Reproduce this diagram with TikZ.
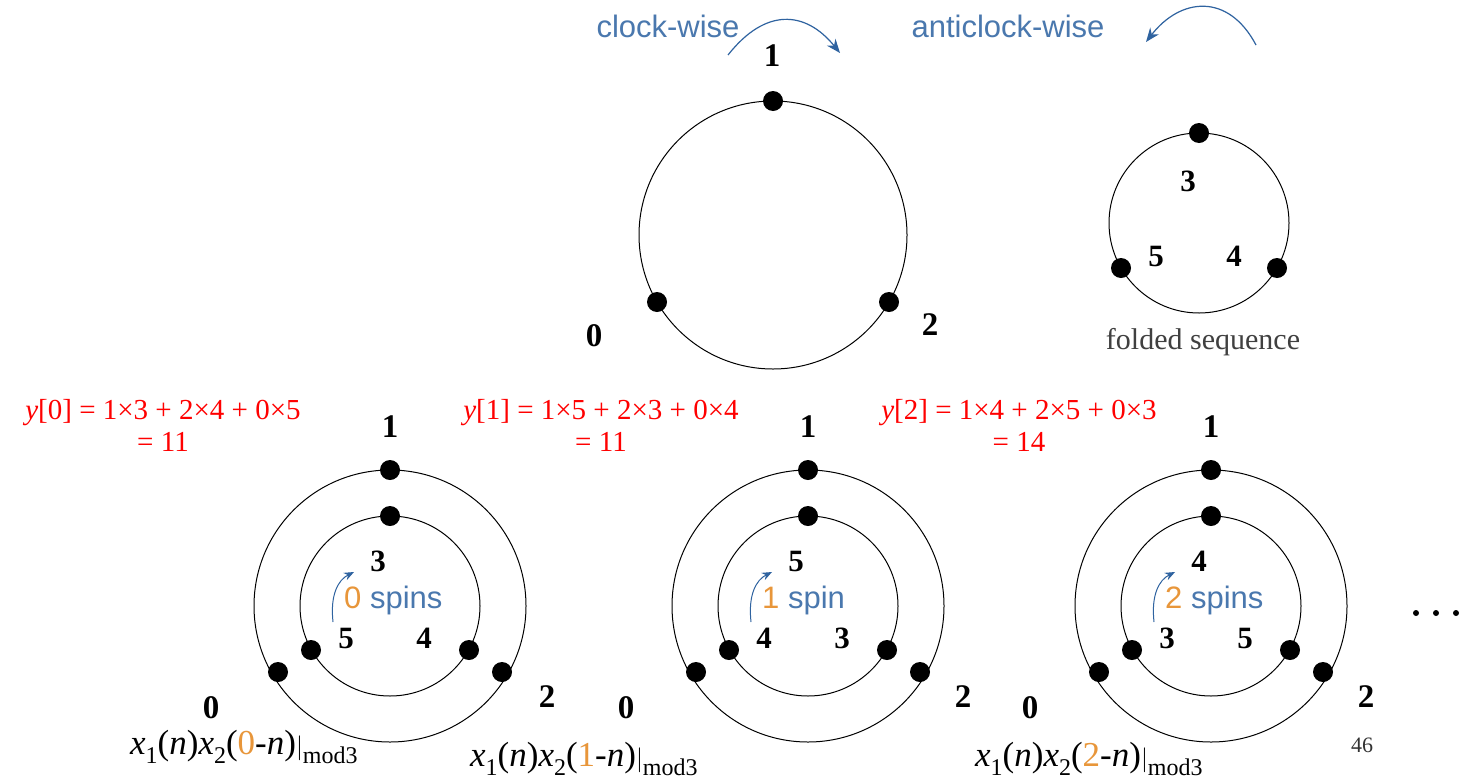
\documentclass[tikz,border=0pt]{standalone}
\usepackage{fontspec}
\setmainfont{Liberation Serif}
\setsansfont{Liberation Sans}
\usetikzlibrary{arrows.meta}
\definecolor{bluetxt}{HTML}{4A78AE}
\definecolor{bluearr}{HTML}{2F63A0}
\definecolor{orng}{HTML}{E8963A}
\newcommand{\lowsub}[1]{\raisebox{-0.28em}{\fontsize{24}{24}\selectfont #1}}
\newcommand{\rfm}[3]{\textit{y}[#1]\hspace{0.25em}=\hspace{0.25em}#2}
\begin{document}
\begin{tikzpicture}[x=1pt,y=-1pt,
  dot/.style={circle,fill=black,inner sep=0pt,minimum size=20pt},
  ring/.style={draw=black,line width=1pt},
  lab/.style={font=\fontsize{33}{33}\selectfont\bfseries,inner sep=0pt},
  inlab/.style={font=\fontsize{31}{31}\selectfont\bfseries,inner sep=0pt},
  bluet/.style={font=\sffamily\fontsize{31}{31}\selectfont,text=bluetxt,inner sep=0pt},
  redf/.style={font=\fontsize{29}{29}\selectfont,text=red,inner sep=0pt},
  capt/.style={font=\fontsize{35}{35}\selectfont,inner sep=0pt,anchor=base west},
  spinarr/.style={draw=bluearr,line width=1pt,-{Stealth[length=10pt,width=8pt]}},
  bigarr/.style={draw=bluearr,line width=1.2pt,-{Stealth[length=14pt,width=11pt]}}]
\useasboundingbox (0,0) rectangle (1461,782);
\fill[white] (0,0) rectangle (1461,782);

% ---------- top: x1 circle ----------
\coordinate (C0) at (773,235);
\draw[ring] (C0) circle[radius=134pt];
\node[dot] (a1) at (773,101) {};
\node[dot] (a0) at (657,302) {};
\node[dot] (a2) at (889,302) {};
\node[lab] (l1) at (772,56) {1};
\node[lab] (l0) at (594,336) {0};
\node[lab] (l2) at (930,325) {2};

\node[bluet] (cw) at (668,26) {clock-wise};
\node[bluet] (acw) at (1008,26) {anticlock-wise};
\coordinate (cws) at (728,55);
\coordinate (cwe) at (840,53);
\draw[bigarr] (cws) .. controls (765,8) and (805,10) .. (cwe);
\coordinate (acws) at (1256,45);
\coordinate (acwe) at (1146,42);
\draw[bigarr] (acws) .. controls (1228,-8) and (1180,-2) .. (acwe);

% ---------- top: folded x2 circle ----------
\coordinate (F0) at (1199,223);
\draw[ring] (F0) circle[radius=90pt];
\node[dot] (b3) at (1199,133) {};
\node[dot] (b5) at (1121,268) {};
\node[dot] (b4) at (1277,268) {};
\node[inlab] (f3) at (1188,181) {3};
\node[inlab] (f5) at (1156,256) {5};
\node[inlab] (f4) at (1234,256) {4};
\node[font=\fontsize{30}{30}\selectfont,text=black!75,inner sep=0pt] (fs) at (1203,342) {folded sequence};

% ---------- bottom groups ----------
\foreach \cx/\ia/\ib/\ic/\num/\word/\lx/\rx/\idx in
   {390/3/5/4/0/spins/211/547/A,
    808/5/4/3/1/spin/626/963/B,
    1211/4/3/5/2/spins/1030/1366/C}{
  \draw[ring] (\cx,606) circle[radius=136pt];
  \draw[ring] (\cx,606) circle[radius=90pt];
  \node[dot] (o1\idx) at (\cx,470) {};
  \node[dot] (o0\idx) at ({\cx-112},672) {};
  \node[dot] (o2\idx) at ({\cx+112},672) {};
  \node[dot] (i1\idx) at (\cx,516) {};
  \node[dot] (i0\idx) at ({\cx-79},650) {};
  \node[dot] (i2\idx) at ({\cx+79},650) {};
  \node[lab] (L1\idx) at (\cx,427) {1};
  \node[lab] (L0\idx) at (\lx,708) {0};
  \node[lab] (L2\idx) at (\rx,697) {2};
  \node[inlab] (I1\idx) at ({\cx-12},561) {\ia};
  \node[inlab] (I0\idx) at ({\cx-44},638) {\ib};
  \node[inlab] (I2\idx) at ({\cx+34},638) {\ic};
  \node[bluet,anchor=west] (S\idx) at ({\cx-46},600) {\textcolor{orng}{\num} \word};
  \coordinate (sa\idx) at ({\cx-57},622);
  \coordinate (sb\idx) at ({\cx-36},572);
  \draw[spinarr] (sa\idx) .. controls ({\cx-60},595) and ({\cx-52},580) .. (sb\idx);
}

% ---------- red formulas ----------
\node[redf] (y0) at (163,413) {\textit{y}[0] = 1×3 + 2×4 + 0×5};
\node[redf] (y0b) at (163,442) {= 11};
\node[redf] (y1) at (601,413) {\textit{y}[1] = 1×5 + 2×3 + 0×4};
\node[redf] (y1b) at (601,442) {= 11};
\node[redf] (y2) at (1019,413) {\textit{y}[2] = 1×4 + 2×5 + 0×3};
\node[redf] (y2b) at (1019,442) {= 14};

% ---------- captions ----------
\node[capt] (c0) at (130,754) {\textit{x}\lowsub{1}(\textit{n})\textit{x}\lowsub{2}(\textcolor{orng}{0}-\textit{n})$|$\lowsub{mod3}};
\node[capt] (c1) at (470,766) {\textit{x}\lowsub{1}(\textit{n})\textit{x}\lowsub{2}(\textcolor{orng}{1}-\textit{n})$|$\lowsub{mod3}};
\node[capt] (c2) at (975,766) {\textit{x}\lowsub{1}(\textit{n})\textit{x}\lowsub{2}(\textcolor{orng}{2}-\textit{n})$|$\lowsub{mod3}};
\node[font=\fontsize{22}{22}\selectfont,text=black!80,inner sep=0pt] (pg) at (1362,745) {46};

% ---------- ellipsis ----------
\node[circle,fill=black,inner sep=0pt,minimum size=6pt] (e1) at (1416,613) {};
\node[circle,fill=black,inner sep=0pt,minimum size=6pt] (e2) at (1436,613) {};
\node[circle,fill=black,inner sep=0pt,minimum size=6pt] (e3) at (1456,613) {};
\end{tikzpicture}
\end{document}
